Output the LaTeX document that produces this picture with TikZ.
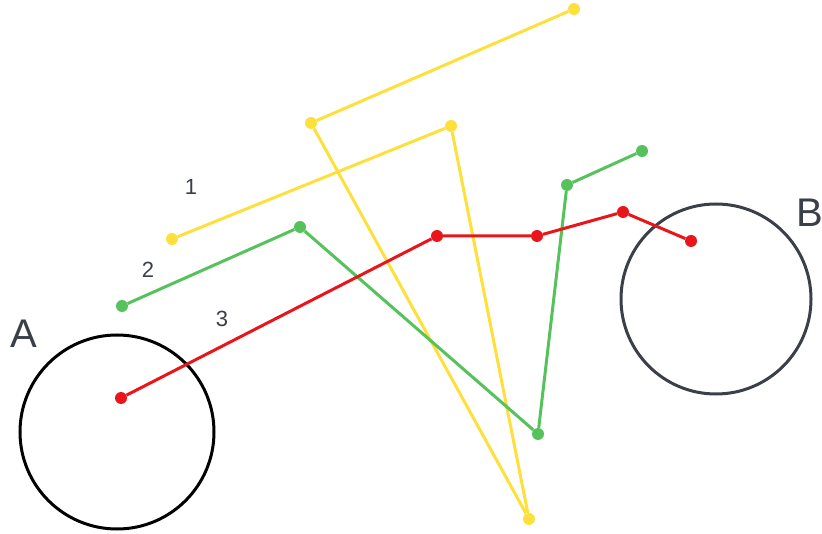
\documentclass[tikz,border=0pt]{standalone}
\usepackage{fontspec}
\setmainfont{Liberation Sans}
\usetikzlibrary{positioning}
\definecolor{ink}{HTML}{3A3F48}
\definecolor{pathyellow}{HTML}{FDE03C}
\definecolor{pathgreen}{HTML}{55C25B}
\definecolor{pathred}{HTML}{E8161B}

\begin{document}
\begin{tikzpicture}[x=1pt,y=-1pt,
  dot/.style={circle,fill,inner sep=0pt,minimum size=12pt},
  seg/.style={line width=3pt},
  zone/.style={circle,draw,line width=3pt,inner sep=0pt},
  tag/.style={text=ink,inner sep=0pt,font=\fontsize{40}{40}\selectfont},
  num/.style={text=ink,inner sep=0pt,font=\fontsize{22}{22}\selectfont}]
      \useasboundingbox (0,0) rectangle (822,534);
      % the two zones
      \node[zone,black,minimum size=194pt] (zoneA) at (117,432) {};
      \node[zone,ink,minimum size=190pt] (zoneB) at (716,299) {};
      \node[tag] (labA) at (24,334) {A};
      \node[tag] (labB) at (810,213) {B};
      \node[num] (n1) at (191,187) {1};
      \node[num] (n2) at (148,270) {2};
      \node[num] (n3) at (222,319) {3};
      % path 1
      \node[dot,pathyellow] (y1) at (172,239) {};
      \node[dot,pathyellow] (y2) at (451,126) {};
      \node[dot,pathyellow] (y3) at (529,519) {};
      \node[dot,pathyellow] (y4) at (311,123) {};
      \node[dot,pathyellow] (y5) at (574,9) {};
      \draw[seg,pathyellow] (y1)--(y2)--(y3)--(y4)--(y5);
      % path 2
      \node[dot,pathgreen] (g1) at (122,306) {};
      \node[dot,pathgreen] (g2) at (300,227) {};
      \node[dot,pathgreen] (g3) at (538,434) {};
      \node[dot,pathgreen] (g4) at (567,185) {};
      \node[dot,pathgreen] (g5) at (642,151) {};
      \draw[seg,pathgreen] (g1)--(g2)--(g3)--(g4)--(g5);
      % path 3
      \node[dot,pathred] (r1) at (121,398) {};
      \node[dot,pathred] (r2) at (437,236) {};
      \node[dot,pathred] (r3) at (537,236) {};
      \node[dot,pathred] (r4) at (623,212) {};
      \node[dot,pathred] (r5) at (691,241) {};
      \draw[seg,pathred] (r1)--(r2)--(r3)--(r4)--(r5);
\end{tikzpicture}
\end{document}
